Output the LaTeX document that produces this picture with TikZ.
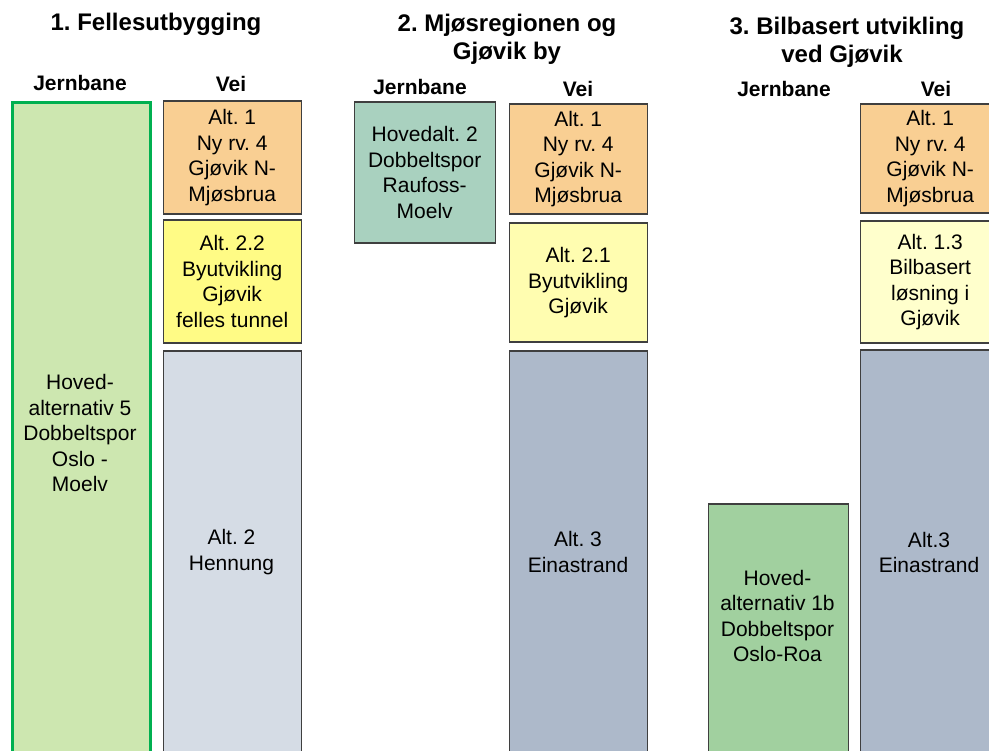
\documentclass[tikz,border=0pt]{standalone}
\usepackage{fontspec}
\setmainfont{Liberation Sans}
\frenchspacing
\definecolor{lgreen}{HTML}{CDE7B0}
\definecolor{ggreen}{HTML}{00B050}
\definecolor{orng}{HTML}{F9CF93}
\definecolor{ylwA}{HTML}{FFFB85}
\definecolor{ylwB}{HTML}{FFFDB0}
\definecolor{ylwC}{HTML}{FFFFCC}
\definecolor{greyA}{HTML}{D5DCE5}
\definecolor{greyB}{HTML}{ADB9CA}
\definecolor{teal}{HTML}{A9D1BF}
\definecolor{mgreen}{HTML}{A1D09F}
\definecolor{bord}{HTML}{3F3F3F}
\tikzset{
  box/.style={draw=bord, line width=1.4pt, rectangle, inner sep=0pt, anchor=north west},
  btxt/.style={align=center, inner sep=0pt, font=\fontsize{21}{25.5}\selectfont},
  title/.style={align=center, inner sep=0pt, anchor=base, font=\fontsize{24}{28}\selectfont\bfseries},
  head/.style={inner sep=0pt, anchor=base, font=\fontsize{21}{25}\selectfont\bfseries}
}
\begin{document}
\begin{tikzpicture}[x=1pt,y=-1pt]
\useasboundingbox (0,0) rectangle (989,751);
\clip (0,0) rectangle (989,751);
% titles
\node[title] (t1) at (156,30.5) {1. Fellesutbygging};
\node[title] (t2a) at (507,31.5) {2. Mjøsregionen og};
\node[title] (t2b) at (507,59.5) {Gjøvik by};
\node[title] (t3a) at (847,35) {3. Bilbasert utvikling};
\node[title] (t3b) at (842,63) {ved Gjøvik};
% headers
\node[head] (h1j) at (80,91) {Jernbane};
\node[head] (h1v) at (231,91.5) {Vei};
\node[head] (h2j) at (420,94.5) {Jernbane};
\node[head] (h2v) at (578,97) {Vei};
\node[head] (h3j) at (784,97) {Jernbane};
\node[head] (h3v) at (936,97) {Vei};
% column 1
\node[box, draw=ggreen, line width=3pt, fill=lgreen, minimum width=138pt, minimum height=680pt] (g1) at (10.5,101.5) {};
\node[btxt] (g1t) at (80,433) {Hoved-\\alternativ 5\\Dobbeltspor\\Oslo -\\Moelv};
\node[box, fill=orng, minimum width=138pt, minimum height=113pt] (v11) at (162.5,100.5) {};
\node[btxt] at (v11.center) {Alt. 1\\Ny rv. 4\\Gjøvik N-\\Mjøsbrua};
\node[box, fill=ylwA, minimum width=138pt, minimum height=123pt] (v12) at (162.5,219.5) {};
\node[btxt] at (v12.center) {Alt. 2.2\\Byutvikling\\Gjøvik\\felles tunnel};
\node[box, fill=greyA, minimum width=138pt, minimum height=430pt] (v13) at (162.5,350.5) {};
\node[btxt] (v13t) at (231.5,552) {Alt. 2\\Hennung};
% column 2
\node[box, fill=teal, minimum width=141pt, minimum height=141pt] (j2) at (353.5,101.5) {};
\node[btxt] at (j2.center) {Hovedalt. 2\\Dobbeltspor\\Raufoss-\\Moelv};
\node[box, fill=orng, minimum width=138pt, minimum height=110pt] (v21) at (508.5,103.5) {};
\node[btxt] at (v21.center) {Alt. 1\\Ny rv. 4\\Gjøvik N-\\Mjøsbrua};
\node[box, fill=ylwB, minimum width=138pt, minimum height=119pt] (v22) at (508.5,222.5) {};
\node[btxt] at (v22.center) {Alt. 2.1\\Byutvikling\\Gjøvik};
\node[box, fill=greyB, minimum width=138pt, minimum height=430pt] (v23) at (508.5,350.5) {};
\node[btxt] (v23t) at (578,552) {Alt. 3\\Einastrand};
% column 3
\node[box, fill=mgreen, minimum width=140pt, minimum height=280pt] (j3) at (707.5,503.5) {};
\node[btxt] (j3t) at (777.5,616) {Hoved-\\alternativ 1b\\Dobbeltspor\\Oslo-Roa};
\node[box, fill=orng, minimum width=140pt, minimum height=109pt] (v31) at (859.5,103.5) {};
\node[btxt] at (v31.center) {Alt. 1\\Ny rv. 4\\Gjøvik N-\\Mjøsbrua};
\node[box, fill=ylwC, minimum width=140pt, minimum height=122pt] (v32) at (859.5,220.5) {};
\node[btxt] at (v32.center) {Alt. 1.3\\Bilbasert\\løsning i\\Gjøvik};
\node[box, fill=greyB, minimum width=140pt, minimum height=430pt] (v33) at (859.5,349.5) {};
\node[btxt] (v33t) at (929,552.5) {Alt.3\\Einastrand};
\end{tikzpicture}
\end{document}
